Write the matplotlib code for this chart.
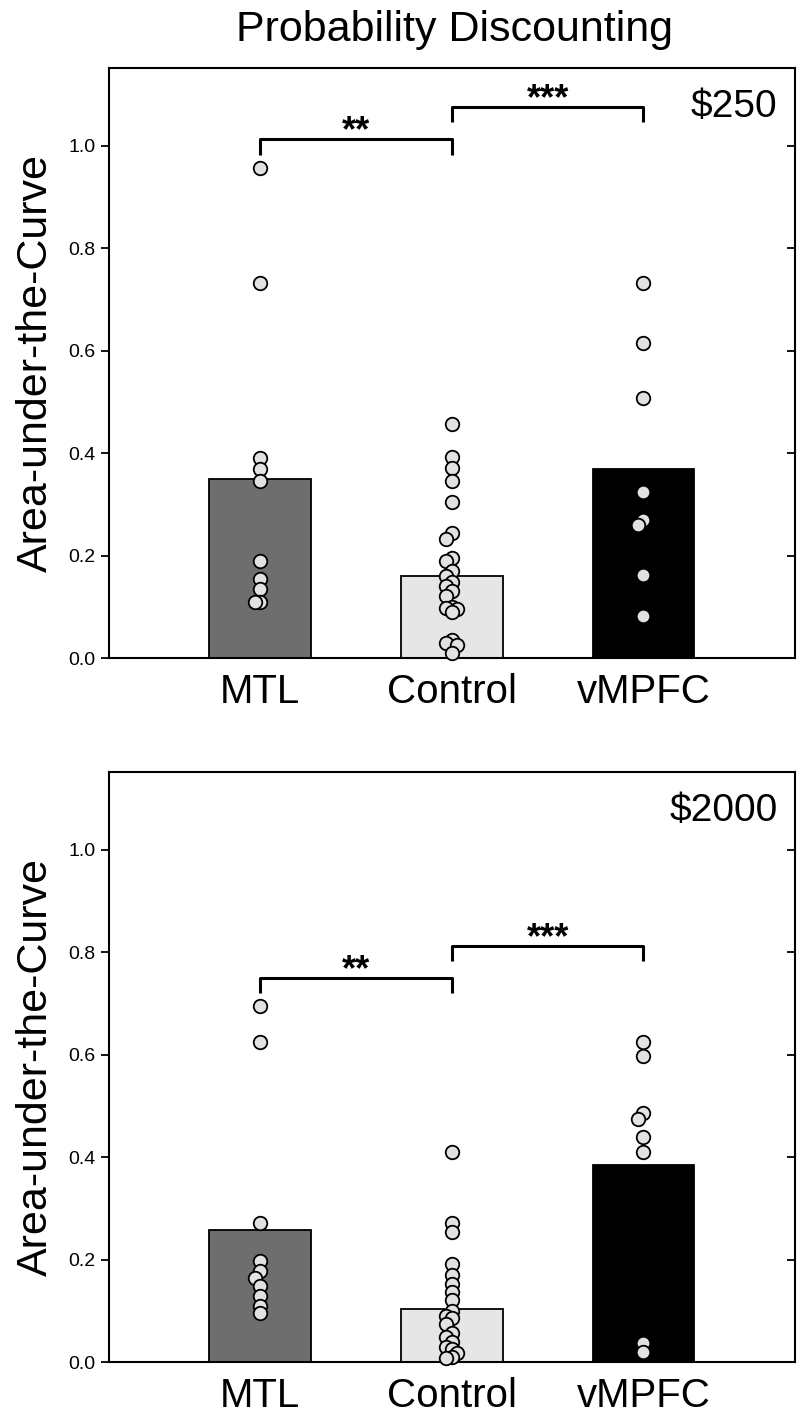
import matplotlib
matplotlib.use('Agg')
import matplotlib.pyplot as plt
import numpy as np

plt.rcParams['font.family'] = ['Liberation Sans', 'DejaVu Sans']

groups = ['MTL', 'Control', 'vMPFC']
bar_colors = ['#6e6e6e', '#e6e6e6', '#000000']
panels = ['$250', '$2000']

# bar heights (group means)
means_250 = [0.35, 0.16, 0.37]
means_2000 = [0.258, 0.104, 0.385]

# individual AUC values
mtl_250 = [0.957, 0.733, 0.39, 0.37, 0.345, 0.19, 0.155, 0.135, 0.11, 0.11]
ctl_250 = [0.457, 0.393, 0.372, 0.345, 0.305, 0.245, 0.232, 0.195, 0.19, 0.17,
           0.16, 0.148, 0.14, 0.13, 0.122, 0.10, 0.098, 0.095, 0.09, 0.035,
           0.03, 0.025, 0.01]
vmp_250 = [0.733, 0.615, 0.508, 0.325, 0.27, 0.26, 0.163, 0.082]

mtl_2000 = [0.695, 0.625, 0.272, 0.198, 0.178, 0.165, 0.148, 0.128, 0.11, 0.095]
ctl_2000 = [0.41, 0.271, 0.253, 0.191, 0.17, 0.152, 0.137, 0.121, 0.10, 0.09,
            0.085, 0.074, 0.056, 0.048, 0.04, 0.03, 0.025, 0.017, 0.01, 0.007]
vmp_2000 = [0.625, 0.598, 0.487, 0.475, 0.44, 0.41, 0.038, 0.02]

# significance brackets: (left group, right group, height, label)
sig_250 = [(0, 1, 1.013, '**'), (1, 2, 1.076, '***')]
sig_2000 = [(0, 1, 0.75, '**'), (1, 2, 0.812, '***')]

means = [means_250, means_2000]
points = [[mtl_250, ctl_250, vmp_250], [mtl_2000, ctl_2000, vmp_2000]]
sigs = [sig_250, sig_2000]


def spread(vals, gap=0.014, step=0.028):
    # small sideways nudge for dots that sit on top of each other
    placed = []
    offs = []
    for v in vals:
        k = 0
        for c in [0, -1, 1]:
            if all(abs(v - pv) > gap or po != c * step for pv, po in placed):
                k = c
                break
        placed.append((v, k * step))
        offs.append(k * step)
    return np.array(offs)


fig = plt.figure(figsize=(8, 14.17), dpi=100)
ax_pos = [[0.136, 0.5356, 0.8575, 0.4164], [0.136, 0.0388, 0.8575, 0.4164]]
x = np.arange(len(groups))

for i in range(2):
    ax = fig.add_axes(ax_pos[i])
    ax.bar(x, means[i], width=0.53, color=bar_colors, edgecolor='black',
           linewidth=1.3, zorder=2)
    for g in range(3):
        vals = np.array(points[i][g])
        ax.scatter(x[g] + spread(vals), vals, s=95, facecolor='#e2e2e2',
                   edgecolor='black', linewidth=1.3, zorder=3, clip_on=False)
    for a, b, h, lab in sigs[i]:
        ax.plot([x[a], x[a], x[b], x[b]], [h - 0.03, h, h, h - 0.03],
                color='black', lw=2.2, solid_capstyle='butt', zorder=4)
        ax.text((x[a] + x[b]) / 2, h - 0.004, lab, ha='center', va='baseline',
                fontsize=26, fontweight='bold')
    ax.set_xlim(-0.79, 2.79)
    ax.set_ylim(0, 1.152)
    ax.set_yticks([0, 0.2, 0.4, 0.6, 0.8, 1.0])
    ax.set_yticklabels(['0.0', '0.2', '0.4', '0.6', '0.8', '1.0'], fontsize=14)
    ax.set_xticks(x)
    ax.set_xticklabels(groups, fontsize=29)
    ax.tick_params(axis='x', length=0, pad=11)
    ax.tick_params(axis='y', direction='out', length=6, width=1.3, right=True)
    for sp in ax.spines.values():
        sp.set_linewidth(1.5)
    ax.set_ylabel('Area-under-the-Curve', fontsize=31, labelpad=9)
    ax.text(0.975, 0.965, panels[i], transform=ax.transAxes, ha='right',
            va='top', fontsize=28)
    # right-hand ticks point inward
    for t in ax.yaxis.get_major_ticks():
        t.tick2line.set_marker(matplotlib.lines.TICKLEFT)
        t.tick2line.set_markersize(6)

fig.text(0.5675, 0.979, 'Probability Discounting', ha='center', va='center',
         fontsize=31)

fig.savefig('out.png', dpi=100)
